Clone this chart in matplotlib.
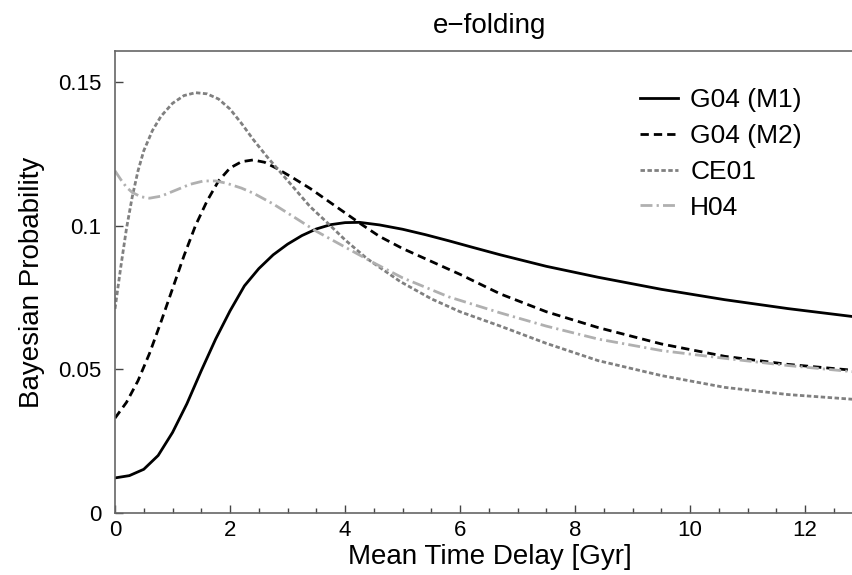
import numpy as np
import matplotlib
matplotlib.use('Agg')
import matplotlib.pyplot as plt

plt.rcParams['font.family'] = ['Liberation Sans', 'DejaVu Sans']

# G04 (M1)
x_m1 = [0, 0.25, 0.5, 0.75, 1.0, 1.25, 1.5, 1.75, 2.0, 2.25, 2.5, 2.75, 3.0, 3.25, 3.5,
        3.75, 4.0, 4.25, 4.6, 5.0, 5.4, 5.8, 6.2, 6.7, 7.5, 8.4, 9.5, 10.6, 11.7, 12.8, 13.0]
y_m1 = [0.0122, 0.0130, 0.0152, 0.0200, 0.0280, 0.0380, 0.0495, 0.0605, 0.0703, 0.0790,
        0.0850, 0.0898, 0.0935, 0.0965, 0.0988, 0.1003, 0.1010, 0.1011, 0.1002, 0.0987,
        0.0968, 0.0947, 0.0925, 0.0898, 0.0858, 0.0820, 0.0778, 0.0742, 0.0711, 0.0684,
        0.0679]

# G04 (M2)
x_m2 = [0, 0.2, 0.4, 0.6, 0.8, 1.0, 1.2, 1.4, 1.6, 1.8, 2.0, 2.2, 2.4, 2.6, 2.8, 3.1,
        3.4, 3.8, 4.3, 4.6, 5.0, 5.5, 6.0, 6.7, 7.5, 8.4, 9.5, 10.6, 11.7, 12.8, 13.0]
y_m2 = [0.033, 0.0385, 0.046, 0.0555, 0.0665, 0.078, 0.0895, 0.100, 0.1085, 0.1155,
        0.1200, 0.1222, 0.1228, 0.1220, 0.1200, 0.1165, 0.1128, 0.1072, 0.1002, 0.0962,
        0.0920, 0.0875, 0.0830, 0.0762, 0.0700, 0.0645, 0.0588, 0.0545, 0.0517, 0.0497,
        0.0494]

# CE01
x_ce = [0, 0.1, 0.2, 0.3, 0.4, 0.5, 0.65, 0.8, 1.0, 1.2, 1.4, 1.6, 1.8, 2.0, 2.2, 2.4,
        2.64, 2.99, 3.39, 3.69, 4.0, 4.38, 4.96, 5.5, 6.0, 6.7, 7.5, 8.4, 9.5, 10.6, 11.7,
        12.8, 13.0]
y_ce = [0.071, 0.0855, 0.0990, 0.1100, 0.1190, 0.1260, 0.1330, 0.1380, 0.1425, 0.1452,
        0.1462, 0.1458, 0.1440, 0.1405, 0.1355, 0.1300, 0.1240, 0.1159, 0.1066, 0.1010,
        0.0950, 0.0885, 0.0805, 0.0745, 0.0700, 0.0650, 0.0590, 0.0530, 0.0478, 0.0437,
        0.0412, 0.0396, 0.0393]

# H04
x_h = [0, 0.1, 0.2, 0.3, 0.45, 0.6, 0.8, 1.07, 1.3, 1.54, 1.75, 1.94, 2.2, 2.41, 2.75,
       3.1, 3.5, 4.0, 4.5, 5.0, 5.8, 6.7, 7.5, 8.4, 9.5, 10.6, 11.7, 12.8, 13.0]
y_h = [0.119, 0.1160, 0.1133, 0.1115, 0.1100, 0.1095, 0.1102, 0.1124, 0.1143, 0.1155,
       0.1155, 0.1147, 0.1130, 0.1112, 0.1075, 0.1031, 0.0980, 0.0925, 0.0870, 0.0818,
       0.0752, 0.0696, 0.0650, 0.0605, 0.0565, 0.0538, 0.0513, 0.0492, 0.0489]

fig = plt.figure(figsize=(8.52, 5.75), dpi=100)
ax = fig.add_axes([115/852, 62/575, 750/852, 462/575])

ax.plot(x_m1, y_m1, color='black', lw=2.0, label='G04 (M1)')
ax.plot(x_m2, y_m2, color='black', lw=2.0, dashes=(3.0, 1.8), label='G04 (M2)')
ax.plot(x_ce, y_ce, color='#808080', lw=2.0, dashes=(1.6, 0.9), label='CE01')
ax.plot(x_h, y_h, color='#b0b0b0', lw=2.0, dashes=(4.3, 1.5, 0.8, 1.5), label='H04')

ax.set_xlim(0, 13.04)
ax.set_ylim(0, 0.1607)
ax.set_xticks([0, 2, 4, 6, 8, 10, 12])
ax.set_xticks(np.arange(0, 13.01, 0.5), minor=True)
ax.set_yticks([0, 0.05, 0.1, 0.15])
ax.set_yticklabels(['0', '0.05', '0.1', '0.15'])
ax.tick_params(axis='both', which='major', direction='in', length=6, width=1,
               labelsize=16, color='#444444', top=False, right=False)
ax.tick_params(axis='x', which='major', pad=5)
ax.tick_params(axis='y', which='major', pad=10)
ax.tick_params(axis='x', which='minor', direction='in', length=3.5, width=1,
               color='#444444', top=False)

for s in ax.spines.values():
    s.set_color('#666666')
    s.set_linewidth(1.2)

ax.set_xlabel('Mean Time Delay [Gyr]', fontsize=20, labelpad=2)
ax.set_ylabel('Bayesian Probability', fontsize=20, labelpad=9)
ax.set_title('e\u2212folding', fontsize=20, pad=13)

ax.legend(loc='upper left', bbox_to_anchor=(640/852, 1 - 88/575),
          bbox_transform=fig.transFigure, frameon=False, fontsize=19,
          handlelength=1.45, handletextpad=0.45, labelspacing=0.45,
          borderpad=0, borderaxespad=0)

fig.savefig('out.png', dpi=100)
